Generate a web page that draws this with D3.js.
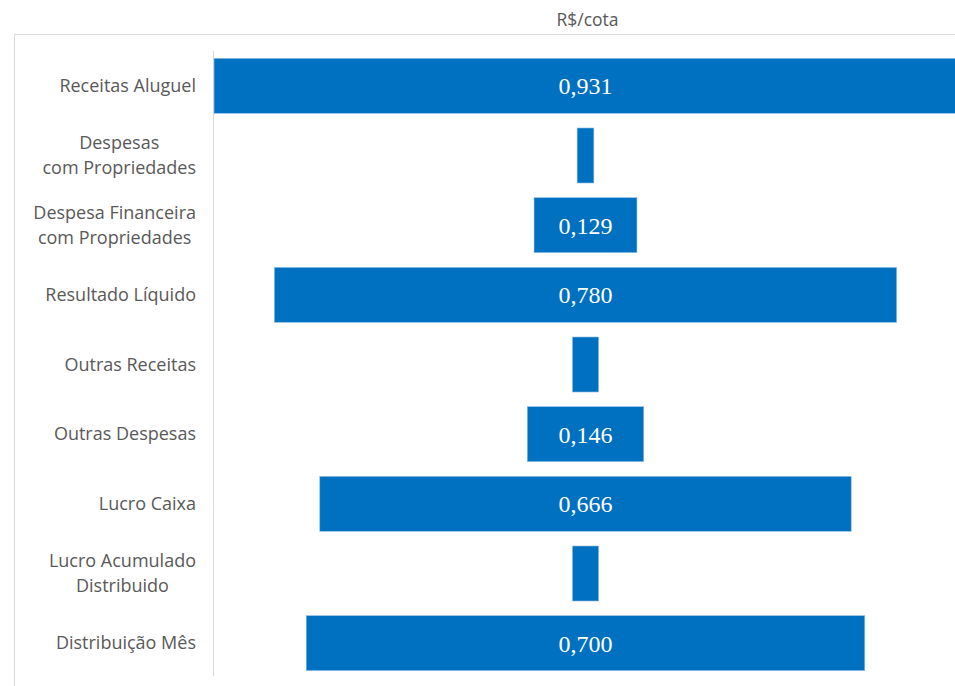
<!DOCTYPE html>
<html>
<head>
<meta charset="utf-8">
<script src="https://cdn.jsdelivr.net/npm/d3@7"></script>
<style>
    body { margin: 0; background: #fff; }
    .label { font-family: "Open Sans", sans-serif; fill: #595959; }
    .value { font-family: "Liberation Serif", serif; fill: #fff; }
</style>
</head>
<body>
<div id="chart"></div>
<script>
// Data
var categories = [
    'Receitas Aluguel',
    'Despesas\ncom Propriedades',
    'Despesa Financeira\ncom Propriedades',
    'Resultado Líquido',
    'Outras Receitas',
    'Outras Despesas',
    'Lucro Caixa',
    'Lucro Acumulado\nDistribuido',
    'Distribuição Mês'
];
var values = [0.931, 0.021, 0.129, 0.780, 0.033, 0.146, 0.666, 0.033, 0.700];
var title = 'R$/cota';

var width = 955, height = 686;
var cfg = {
    'axisX': 213,
    'center': 585.5,
    'pxPerUnit': 798,
    'top': 51,
    'bottom': 678,
    'labelRight': 196,
    'color': '#0070C0'
};

var svg = d3.select('#chart').append('svg')
    .attr('width', width)
    .attr('height', height);

// outer frame
svg.append('rect')
    .attr('x', 14.5).attr('y', 34.5)
    .attr('width', width).attr('height', height)
    .attr('fill', 'none')
    .attr('stroke', '#d9d9d9');

// TITLE
svg.append('text')
    .attr('class', 'label')
    .attr('x', cfg.center + 2).attr('y', 26)
    .attr('text-anchor', 'middle')
    .style('font-size', '17.5px')
    .text(title);

var xScale = d3.scaleLinear()
    .domain([-0.5, 0.5])
    .range([cfg.center - cfg.pxPerUnit / 2, cfg.center + cfg.pxPerUnit / 2]);

var yScale = d3.scaleBand()
    .domain(categories)
    .range([cfg.top, cfg.bottom])
    .paddingInner(0.21)
    .paddingOuter(0.105);

// axis line
svg.append('line')
    .attr('x1', cfg.axisX + 0.5).attr('x2', cfg.axisX + 0.5)
    .attr('y1', cfg.top).attr('y2', cfg.bottom - 2)
    .attr('stroke', '#d9d9d9');

// BARS
var g = svg.append('g');
g.selectAll('.bar')
    .data(values)
    .enter().append('rect')
    .attr('class', 'bar')
    .attr('x', function(d){ return xScale(-d / 2); })
    .attr('width', function(d){ return xScale(d / 2) - xScale(-d / 2); })
    .attr('y', function(d, i){ return yScale(categories[i]); })
    .attr('height', yScale.bandwidth())
    .attr('fill', cfg.color)
    .attr('stroke', '#9cc3e6')
    .attr('stroke-width', 0.6);

// VALUE LABELS (only where the bar is wide enough)
g.selectAll('.value')
    .data(values)
    .enter().append('text')
    .attr('class', 'value')
    .attr('x', cfg.center)
    .attr('y', function(d, i){ return yScale(categories[i]) + yScale.bandwidth() / 2; })
    .attr('dy', '0.35em')
    .attr('text-anchor', 'middle')
    .style('font-size', '24px')
    .text(function(d){
        if (xScale(d / 2) - xScale(-d / 2) < 70) return '';
        return d3.format('.3f')(d).replace('.', ',');
    });

// CATEGORY LABELS
categories.forEach(function(c, i){
    var lines = c.split('\n');
    var cy = yScale(c) + yScale.bandwidth() / 2;
    var t = svg.append('text')
        .attr('class', 'label')
        .attr('text-anchor', 'middle')
        .style('font-size', '18px');
    lines.forEach(function(l, j){
        t.append('tspan')
            .attr('y', cy + (j - (lines.length - 1) / 2) * 25)
            .attr('dy', '0.35em')
            .text(l);
    });
    var w = 0;
    t.selectAll('tspan').each(function(){ w = Math.max(w, this.getComputedTextLength()); });
    t.selectAll('tspan').attr('x', cfg.labelRight - w / 2);
});
</script>
</body>
</html>
